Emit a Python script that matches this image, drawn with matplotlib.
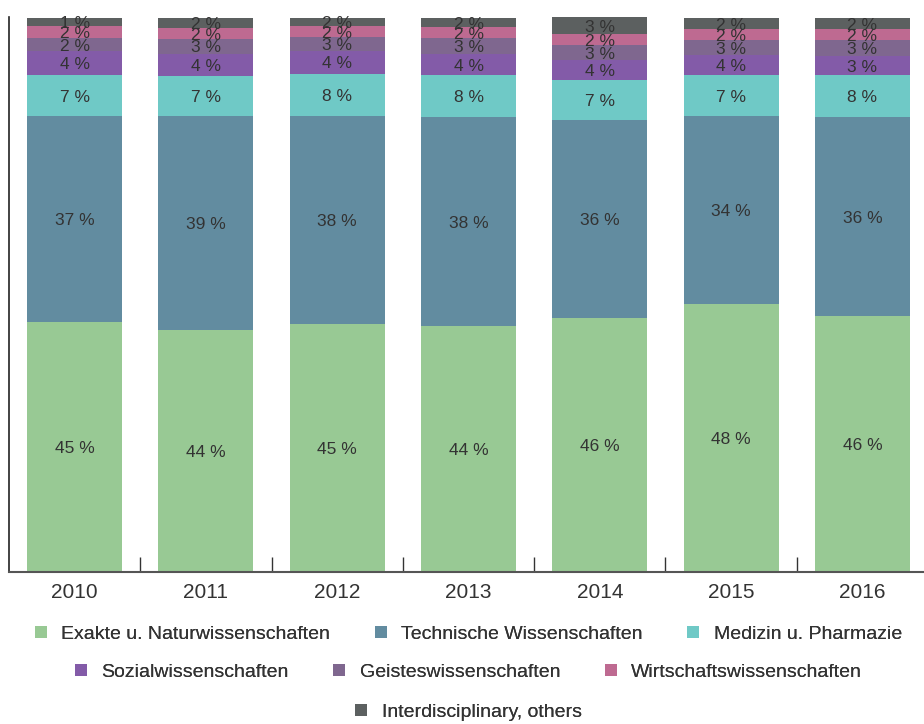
import matplotlib
matplotlib.use("Agg")
import matplotlib.pyplot as plt
import numpy as np
from matplotlib.lines import Line2D

years = ["2010", "2011", "2012", "2013", "2014", "2015", "2016"]
categories = ["Exakte u. Naturwissenschaften", "Technische Wissenschaften", "Medizin u. Pharmazie",
              "Sozialwissenschaften", "Geisteswissenschaften", "Wirtschaftswissenschaften",
              "Interdisciplinary, others"]
exakte = [45.0, 43.6, 44.7, 44.3, 45.9, 48.3, 46.1]
technische = [37.2, 38.6, 37.6, 37.7, 35.6, 33.9, 35.9]
medizin = [7.4, 7.2, 7.6, 7.6, 7.2, 7.4, 7.6]
sozial = [4.3, 4.1, 4.0, 3.8, 3.6, 3.6, 3.4]
geistes = [2.4, 2.6, 2.6, 2.9, 2.7, 2.7, 2.9]
wirtschaft = [2.2, 2.0, 1.9, 2.0, 2.0, 2.0, 2.0]
interdisc = [1.4, 1.8, 1.6, 1.6, 3.1, 2.0, 2.0]
series = [exakte, technische, medizin, sozial, geistes, wirtschaft, interdisc]
colors = ["#98C994", "#628CA0", "#6FC9C6", "#835BA8", "#7F678F", "#BE6A91", "#5C6060"]

TEXT = "#333333"
REG = ["Liberation Sans", "DejaVu Sans"]

fig = plt.figure(figsize=(9.24, 7.24), dpi=100)
ax = fig.add_axes([9 / 924, 152 / 724, 919 / 924, 555 / 724])

x = np.arange(len(years))
bottom = np.zeros(len(years))
for vals, col in zip(series, colors):
    v = np.array(vals)
    ax.bar(x, v, bottom=bottom, width=0.723, color=col, linewidth=0)
    for xi, b, h in zip(x, bottom, v):
        ax.text(xi, b + h / 2, f"{h:.0f} %", ha="center", va="center_baseline",
                fontsize=12.5, color=TEXT, family=REG)
    bottom += v

ax.set_xlim(-0.5, len(years) - 0.5)
ax.set_ylim(0, bottom.max())
ax.set_yticks([])
ax.set_xticks(x)
ax.set_xticklabels(years, fontsize=15, color=TEXT, family=REG)
ax.tick_params(axis="x", which="major", length=0, pad=8)
ax.set_xticks(x[:-1] + 0.5, minor=True)
ax.tick_params(axis="x", which="minor", direction="in", length=11, width=1, color="#333333")
for s in ["top", "right"]:
    ax.spines[s].set_visible(False)
ax.spines["left"].set_color("#222222")
ax.spines["left"].set_linewidth(1.2)
ax.spines["bottom"].set_color("#555555")
ax.spines["bottom"].set_linewidth(1.5)

handles = [Line2D([], [], marker="s", linestyle="none", markersize=8, markerfacecolor=c,
                  markeredgewidth=0) for c in colors]
rows = [(0, 3, 634), (3, 6, 672), (6, 7, 712)]
for a, b, yp in rows:
    leg = fig.legend(handles[a:b], categories[a:b], loc="center",
                     bbox_to_anchor=(468.5 / 924, (724 - yp) / 724), ncol=b - a,
                     frameon=False, handlelength=0.6, handletextpad=0.75, columnspacing=2.3,
                     borderpad=0, borderaxespad=0,
                     prop={"family": REG, "size": 14})
    for t in leg.get_texts():
        t.set_color(TEXT)
    fig.add_artist(leg)

fig.savefig("out.png", dpi=100)
